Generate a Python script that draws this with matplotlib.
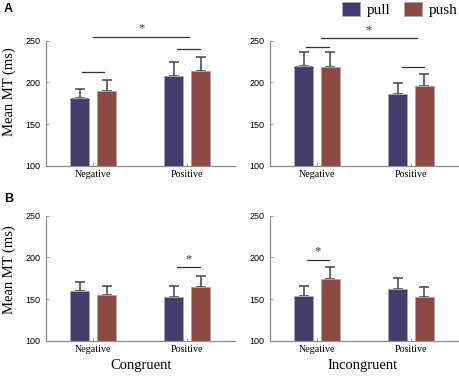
import numpy as np
import matplotlib
matplotlib.use("Agg")
import matplotlib.pyplot as plt
from matplotlib.patches import Patch

# data
conds = ["Negative", "Positive"]

a_cong_pull = [181, 207.5]
a_cong_pull_err = [11, 16.5]
a_cong_push = [190, 213.5]
a_cong_push_err = [13, 16.5]

a_incong_pull = [220, 186]
a_incong_pull_err = [16, 13]
a_incong_push = [219, 196]
a_incong_push_err = [17, 14]

b_cong_pull = [160, 152]
b_cong_pull_err = [10, 14]
b_cong_push = [155, 165]
b_cong_push_err = [11, 13]

b_incong_pull = [154, 162]
b_incong_pull_err = [12, 13]
b_incong_push = [174, 153]
b_incong_push_err = [14, 12]

# significance lines: (x1, x2, y, star)
sig_a_cong = [(0.88, 1.12, 213, False), (1.89, 2.13, 240, False), (1.0, 2.02, 255, True)]
sig_a_incong = [(0.88, 1.13, 242.5, False), (1.90, 2.14, 218.5, False), (1.04, 2.06, 253, True)]
sig_b_cong = [(1.89, 2.13, 188, True)]
sig_b_incong = [(0.89, 1.13, 197, True)]

pull_col = "#433c6c"
push_col = "#8d4a41"
edge_col = "#a8a8a8"
err_col = "#444444"
spine_col = "#8c8c8c"

serif = "Liberation Serif"
sans = "Liberation Sans"

fig = plt.figure(figsize=(4.59, 3.76), dpi=100)

W, H = 459.0, 376.0


def make_ax(x0, x1, ytop, ybot):
    return fig.add_axes([x0 / W, 1 - ybot / H, (x1 - x0) / W, (ybot - ytop) / H])


def draw_panel(ax, pull, pull_err, push, push_err, sigs):
    x = np.arange(1, len(conds) + 1)
    off = 0.143
    w = 0.2
    ax.bar(x - off, pull, width=w, bottom=0, color=pull_col, edgecolor=edge_col,
           linewidth=0.7, zorder=2)
    ax.bar(x + off, push, width=w, bottom=0, color=push_col, edgecolor=edge_col,
           linewidth=0.7, zorder=2)
    ax.errorbar(x - off, pull, yerr=[np.zeros(len(pull)), pull_err], fmt="none",
                ecolor=err_col, elinewidth=1.1, capsize=3.6, capthick=1.1, zorder=1)
    ax.errorbar(x + off, push, yerr=[np.zeros(len(push)), push_err], fmt="none",
                ecolor=err_col, elinewidth=1.1, capsize=3.6, capthick=1.1, zorder=1)
    for x1, x2, y, star in sigs:
        ax.plot([x1, x2], [y, y], color="#333333", lw=0.9, clip_on=False)
        if star:
            ax.text((x1 + x2) / 2, y + 2.5, "*", ha="center", va="bottom",
                    fontsize=9, family=serif, color="#333333", clip_on=False)
    ax.set_xlim(0.5, 2.5)
    ax.set_ylim(100, 250)
    ax.set_yticks([100, 150, 200, 250])
    ax.set_xticks(x)
    ax.set_xticklabels(conds, family=serif, fontsize=7.2)
    for lab in ax.get_yticklabels():
        lab.set_family(sans)
        lab.set_fontsize(6.5)
    ax.tick_params(axis="y", direction="in", length=2, width=0.6, color=spine_col, pad=4)
    ax.tick_params(axis="x", direction="in", length=2, width=0.6, color=spine_col, pad=3)
    for s in ["top", "right"]:
        ax.spines[s].set_visible(False)
    for s in ["left", "bottom"]:
        ax.spines[s].set_color(spine_col)
        ax.spines[s].set_linewidth(0.9)


ax1 = make_ax(46, 234.5, 40.7, 166)
ax2 = make_ax(270, 458, 40.7, 166)
ax3 = make_ax(46, 234.5, 215.5, 341)
ax4 = make_ax(270, 458, 215.5, 341)

draw_panel(ax1, a_cong_pull, a_cong_pull_err, a_cong_push, a_cong_push_err, sig_a_cong)
draw_panel(ax2, a_incong_pull, a_incong_pull_err, a_incong_push, a_incong_push_err, sig_a_incong)
draw_panel(ax3, b_cong_pull, b_cong_pull_err, b_cong_push, b_cong_push_err, sig_b_cong)
draw_panel(ax4, b_incong_pull, b_incong_pull_err, b_incong_push, b_incong_push_err, sig_b_incong)

fig.text(9 / W, 1 - 92 / H, "Mean MT (ms)", rotation=90, ha="center", va="center",
         family=serif, fontsize=10.5)
fig.text(9 / W, 1 - 270 / H, "Mean MT (ms)", rotation=90, ha="center", va="center",
         family=serif, fontsize=10.5)
fig.text(141 / W, 1 - 366 / H, "Congruent", ha="center", va="center",
         family=serif, fontsize=10.5)
fig.text(363 / W, 1 - 366 / H, "Incongruent", ha="center", va="center",
         family=serif, fontsize=10.5)

fig.text(4 / W, 1 - 9 / H, "A", ha="left", va="center", family=sans,
         fontweight="bold", fontsize=9)
fig.text(4 / W, 1 - 199 / H, "B", ha="left", va="center", family=sans,
         fontweight="bold", fontsize=9)

handles = [Patch(facecolor=pull_col, edgecolor=edge_col, linewidth=0.7, label="pull"),
           Patch(facecolor=push_col, edgecolor=edge_col, linewidth=0.7, label="push")]
fig.legend(handles=handles, loc="upper right", bbox_to_anchor=(1.0, 1.0), ncol=2,
           frameon=False, prop={"family": serif, "size": 11},
           handlelength=1.15, handleheight=1.1, handletextpad=0.45,
           columnspacing=0.9, borderaxespad=0.0, borderpad=0.1)

fig.savefig("out.png", dpi=100)
